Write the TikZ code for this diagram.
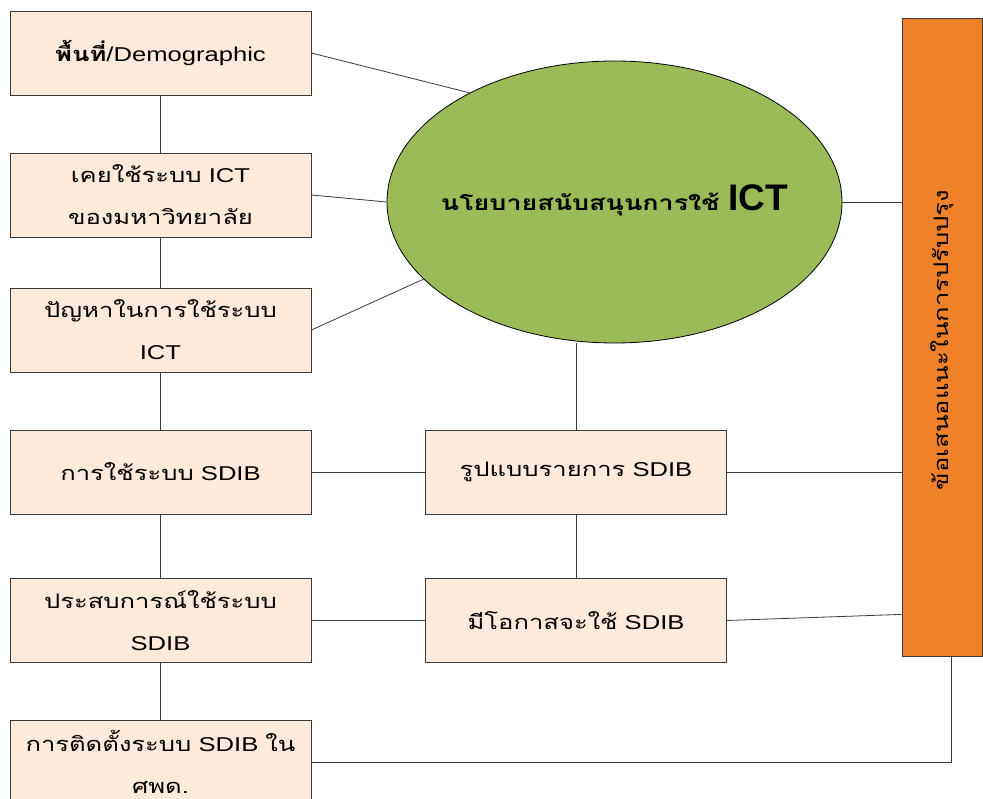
\documentclass[tikz,border=0pt]{standalone}
\usepackage{fontspec}
\setmainfont{Liberation Sans}[FakeStretch=1.28]
\newfontfamily\thaifont[Script=Thai,FakeStretch=1.28]{Loma}
\newfontfamily\plainsans{Liberation Sans}
\usetikzlibrary{shapes.geometric,backgrounds}
\definecolor{peach}{HTML}{FDEADA}
\definecolor{olive}{HTML}{9BBB59}
\definecolor{orng}{HTML}{EF8229}
\definecolor{edgec}{HTML}{3A3A3A}
\tikzset{
  box/.style={draw=edgec, line width=0.8pt, fill=peach, minimum width=301pt, minimum height=84pt,
    align=center, inner sep=0pt, font=\fontsize{20}{42}\selectfont},
  link/.style={draw=edgec, line width=0.8pt},
}
\begin{document}
\begin{tikzpicture}[x=1pt,y=-1pt]
\useasboundingbox (0,0) rectangle (983,799);
\node[box] (b1) at (160.5,53) {{\thaifont\bfseries พื้นที่}/Demographic};
\node[box] (b2) at (160.5,195) {{\thaifont เคยใช้ระบบ} ICT\\{\thaifont ของมหาวิทยาลัย}};
\node[box] (b3) at (160.5,330) {{\thaifont ปัญหาในการใช้ระบบ}\\ICT};
\node[box] (b4) at (160.5,472) {{\thaifont การใช้ระบบ} SDIB};
\node[box] (b5) at (160.5,620.5) {{\thaifont ประสบการณ์ใช้ระบบ}\\SDIB};
\node[box] (b6) at (160.5,762) {{\thaifont การติดตั้งระบบ} SDIB {\thaifont ใน}\\{\thaifont ศพด.}};
\node[box] (m1) at (576,472) {{\thaifont รูปแบบรายการ} SDIB};
\node[box] (m2) at (576,620.5) {{\thaifont มีโอกาสจะใช้} SDIB};
\node[ellipse, draw=black, line width=0.8pt, fill=olive, minimum width=455pt, minimum height=282pt, inner sep=0pt]
  (ell) at (614.5,202) {};
\node (elltext) at (614.5,200) {{\fontsize{21}{26}\selectfont\thaifont\bfseries นโยบายสนับสนุนการใช้}\hspace{9pt}{\fontsize{37}{40}\selectfont\plainsans\bfseries ICT}};
\node[draw=edgec, line width=0.8pt, fill=orng, minimum width=80pt, minimum height=638pt, inner sep=0pt]
  (or) at (942,337) {};
\node[rotate=90, font=\fontsize{20}{24}\selectfont\thaifont] (ortext) at (942,340) {ข้อเสนอแนะในการปรับปรุง};
\begin{scope}[on background layer]
\draw[link] (b1) -- (b2);
\draw[link] (b2) -- (b3);
\draw[link] (b3) -- (b4);
\draw[link] (b4) -- (b5);
\draw[link] (b5) -- (b6);
\draw[link] (b1.east) -- (ell.143);
\draw[link] (b2.east) -- (ell.west);
\draw[link] (b3.east) -- (ell.202);
\draw[link] (ell.east) -- (ell.east -| or.west);
\draw[link] (m1.north) -- (m1.north |- ell.south);
\draw[link] (b4.east) -- (m1.west);
\draw[link] (b5.east) -- (m2.west);
\draw[link] (m1) -- (m2);
\draw[link] (m1.east) -- (m1.east -| or.west);
\draw[link] (m2.east) -- ([yshift=42pt]or.south west);
\draw[link] (b6.east) -- (b6.east -| 951,0) -- ([xshift=9pt]or.south);
\end{scope}
\end{tikzpicture}
\end{document}
